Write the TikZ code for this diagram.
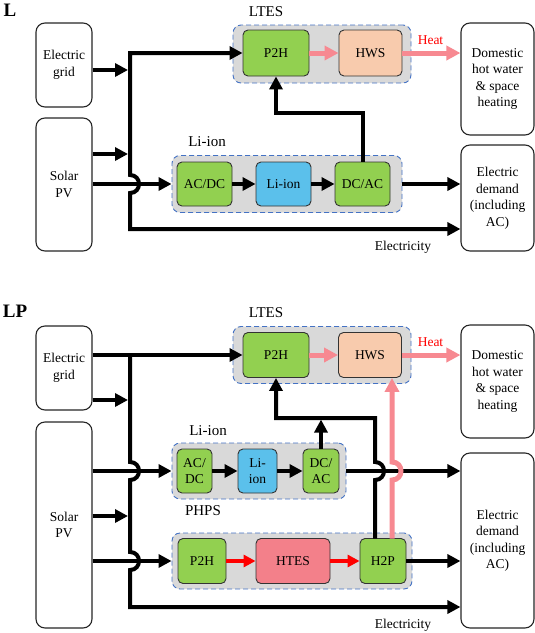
\documentclass[tikz,border=0pt]{standalone}
\usepackage{fontspec}
\setmainfont{Liberation Serif}
\usetikzlibrary{arrows.meta}
\definecolor{cgreen}{RGB}{146,208,80}
\definecolor{cblue}{RGB}{91,192,235}
\definecolor{cpeach}{RGB}{248,203,173}
\definecolor{chtes}{RGB}{243,128,138}
\definecolor{cpink}{RGB}{247,137,145}
\definecolor{cgray}{RGB}{217,217,217}
\definecolor{cdash}{RGB}{68,114,196}
\definecolor{cred}{RGB}{255,0,0}
\tikzset{
  outbox/.style={draw=black!85, line width=1.1pt, rounded corners=9pt, fill=white, align=center, inner sep=0pt, font=\fontsize{13.5}{16.5}\selectfont},
  grp/.style={draw=cdash, line width=0.9pt, dash pattern=on 5pt off 3pt, rounded corners=8pt, fill=cgray, inner sep=0pt},
  inbox/.style={draw=black!80, line width=0.9pt, rounded corners=5pt, align=center, inner sep=0pt, font=\fontsize{13.5}{16}\selectfont},
  glabel/.style={font=\fontsize{15}{18}\selectfont, inner sep=0pt},
  txt/.style={font=\fontsize{13.5}{16}\selectfont, inner sep=0pt},
  ln/.style={line width=4pt, draw=black},
  ar/.style={ln, -{Triangle[length=13pt,width=13pt]}},
  arr/.style={ln, {Triangle[length=13pt,width=13pt]}-{Triangle[length=13pt,width=13pt]}},
  pk/.style={line width=5pt, draw=cpink, -{Triangle[length=14pt,width=14pt]}},
  rd/.style={line width=4pt, draw=cred, -{Triangle[length=12pt,width=12pt]}},
}
\begin{document}
\begin{tikzpicture}[x=1pt,y=-1pt]
\useasboundingbox (0,0) rectangle (535,633);
% ================= Panel L =================
\node[font=\bfseries\fontsize{19}{19}\selectfont, inner sep=0pt] (labL) at (10,10) {L};
\node[outbox, minimum width=56pt, minimum height=84pt] (grid1) at (64,65) {Electric\\grid};
\node[outbox, minimum width=56pt, minimum height=133pt] (pv1) at (64,184.5) {Solar\\PV};
\node[outbox, minimum width=73pt, minimum height=112pt] (dom1) at (497.5,79) {Domestic\\hot water\\\& space\\heating};
\node[outbox, minimum width=73pt, minimum height=106pt] (dem1) at (497.5,198) {Electric\\demand\\(including\\AC)};
\node[grp, minimum width=178pt, minimum height=58pt] (ltes1) at (322,54) {};
\node[glabel] (ltesl1) at (266,12) {LTES};
\node[inbox, fill=cgreen, minimum width=66pt, minimum height=46pt] (p2h1) at (276,53) {P2H};
\node[inbox, fill=cpeach, minimum width=63pt, minimum height=46pt] (hws1) at (370.5,53) {HWS};
\node[grp, minimum width=230pt, minimum height=57pt] (li1) at (287,184) {};
\node[glabel] (lil1) at (207,142) {Li-ion};
\node[inbox, fill=cgreen, minimum width=55pt, minimum height=44pt] (acdc1) at (204.5,184) {AC/DC};
\node[inbox, fill=cblue, minimum width=55pt, minimum height=44pt] (liion1) at (283.5,184) {Li-ion};
\node[inbox, fill=cgreen, minimum width=55pt, minimum height=44pt] (dcac1) at (362.5,184) {DC/AC};
\node[txt, text=cred] (heat1) at (430.5,40) {Heat};
\node[txt] (elec1) at (403,247) {Electricity};
\coordinate (bt1) at (130,53);
\coordinate (bb1) at (130,229);
% connectors
\draw[ar] (grid1.east |- 0,70) -- (128,70);
\draw[ar] (pv1.east |- 0,154) -- (128,154);
\draw[ar] (pv1.east |- 0,184) -- (li1.west);
\draw[arr] (p2h1.west) -- (bt1) -- (130,175) .. controls (142,175) and (142,193) .. (130,193) -- (bb1) -- (dem1.west |- bb1);
\draw[ar] (acdc1) -- (liion1);
\draw[ar] (liion1) -- (dcac1);
\draw[ar] (li1.east) -- (dem1.west |- li1.east);
\draw[ar] (dcac1.north) -- ++(0,-49) -| (p2h1.south);
\draw[pk] (p2h1) -- (hws1);
\draw[pk] (hws1) -- (dom1.west |- hws1);
% ================= Panel LP =================
\node[font=\bfseries\fontsize{19}{19}\selectfont, inner sep=0pt] (labLP) at (15,311) {LP};
\node[outbox, minimum width=56pt, minimum height=84pt] (grid2) at (64,368) {Electric\\grid};
\node[outbox, minimum width=56pt, minimum height=206pt] (pv2) at (64,525) {Solar\\PV};
\node[outbox, minimum width=73pt, minimum height=113pt] (dom2) at (497.5,381.5) {Domestic\\hot water\\\& space\\heating};
\node[outbox, minimum width=73pt, minimum height=175pt] (dem2) at (497.5,540.5) {Electric\\demand\\(including\\AC)};
\node[grp, minimum width=178pt, minimum height=57pt] (ltes2) at (322,355) {};
\node[glabel] (ltesl2) at (266,313) {LTES};
\node[inbox, fill=cgreen, minimum width=66pt, minimum height=45pt] (p2h2) at (276,355) {P2H};
\node[inbox, fill=cpeach, minimum width=63pt, minimum height=45pt] (hws2) at (370,355) {HWS};
\node[grp, minimum width=174pt, minimum height=56pt] (li2) at (259,471) {};
\node[glabel] (lil2) at (208,431) {Li-ion};
\node[inbox, fill=cgreen, minimum width=35pt, minimum height=44pt] (acdc2) at (194.5,471) {AC/\\DC};
\node[inbox, fill=cblue, minimum width=39pt, minimum height=44pt] (liion2) at (257.5,471) {Li-\\ion};
\node[inbox, fill=cgreen, minimum width=36pt, minimum height=44pt] (dcac2) at (321,471) {DC/\\AC};
\node[grp, minimum width=240pt, minimum height=56pt] (phps) at (292,561) {};
\node[glabel] (phpsl) at (203,511) {PHPS};
\node[inbox, fill=cgreen, minimum width=48pt, minimum height=45pt] (p2h3) at (202,561) {P2H};
\node[inbox, fill=chtes, minimum width=74pt, minimum height=45pt] (htes) at (293,561) {HTES};
\node[inbox, fill=cgreen, minimum width=46pt, minimum height=45pt] (h2p) at (383,561) {H2P};
\node[txt, text=cred] (heat2) at (430.5,342) {Heat};
\node[txt] (elec2) at (403,625) {Electricity};
\coordinate (bt2) at (130,355);
\coordinate (bb2) at (130,607);
\coordinate (hb) at (375,538.5);
\coordinate (hp) at (392,538.5);
% connectors
\draw[ar] (grid2.east |- bt2) -- (p2h2.west);
\draw[ar] (grid2.east |- 0,400) -- (128,400);
\draw[ar] (pv2.east |- 0,516) -- (128,516);
\draw[ar] (pv2.east |- li2.west) -- (li2.west);
\draw[ar] (pv2.east |- phps.west) -- (phps.west);
\draw[ar] (bt2) -- (130,462) .. controls (142,462) and (142,480) .. (130,480)
  -- (130,552) .. controls (142,552) and (142,570) .. (130,570) -- (bb2) -- (dem2.west |- bb2);
\draw[ar] (acdc2) -- (liion2);
\draw[ar] (liion2) -- (dcac2);
\draw[ar] (li2.east) -- (dem2.west |- li2.east);
\draw[ar] (dcac2.north) -- ++(0,-29);
\draw[ar] (hb) -- (375,480) .. controls (387,480) and (387,462) .. (375,462) -- (375,418) -| (p2h2.south);
\draw[pk] (hp) -- (392,480) .. controls (404,480) and (404,462) .. (392,462) -- (hws2.south -| hp);
\draw[pk] (p2h2) -- (hws2);
\draw[pk] (hws2) -- (dom2.west |- hws2);
\draw[rd] (p2h3) -- (htes);
\draw[rd] (htes) -- (h2p);
\draw[ar] (h2p) -- (dem2.west |- h2p);
\end{tikzpicture}
\end{document}
